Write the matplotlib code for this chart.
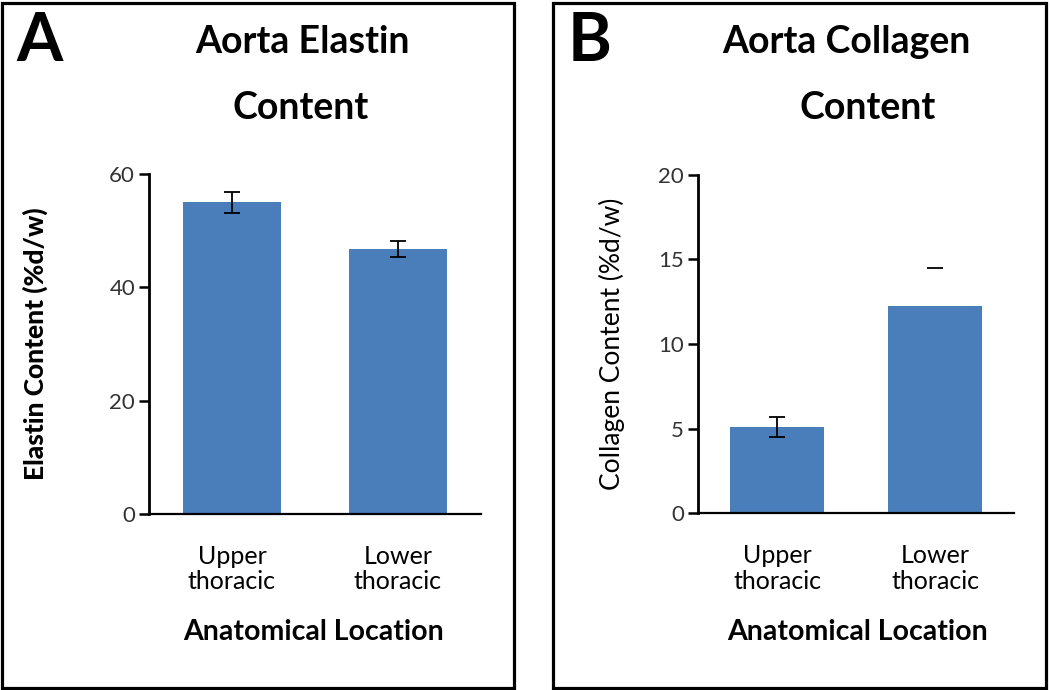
import matplotlib
matplotlib.use("Agg")
import matplotlib.pyplot as plt
from matplotlib.patches import Rectangle

plt.rcParams['font.family'] = ['Lato', 'DejaVu Sans']

categories = ["Upper\nthoracic", "Lower\nthoracic"]
elastin = [55.0, 46.7]
elastin_err = [1.8, 1.4]
collagen = [5.1, 12.24]
collagen_err = [0.6, 2.25]
elastin_ticks = [0, 20, 40, 60]
collagen_ticks = [0, 5, 10, 15, 20]

BAR = '#4A7EBB'
W, H = 1050, 690
fig = plt.figure(figsize=(10.5, 6.9), dpi=100)

def fx(px):
    return px / W

def fy(py):
    return 1 - py / H

# panel borders
for (x0, x1) in [(1.5, 514), (553, 1046)]:
    fig.patches.append(Rectangle((fx(x0), fy(688)), fx(x1 - x0), (688 - 2.5) / H,
                                 transform=fig.transFigure, fill=False,
                                 edgecolor='black', linewidth=2.3))

def style(ax, ticks, ylim):
    ax.set_ylim(*ylim)
    ax.set_xlim(-0.5, 1.5)
    ax.set_yticks(ticks)
    for s in ['top', 'right']:
        ax.spines[s].set_visible(False)
    ax.spines['left'].set_linewidth(2.0)
    ax.spines['bottom'].set_linewidth(1.6)
    ax.tick_params(axis='y', direction='out', length=7, width=1.8, labelsize=16,
                   labelcolor='#333333', pad=3)
    ax.tick_params(axis='x', length=0, labelsize=18, pad=22)
    ax.set_xticks(range(len(categories)))
    ax.set_xticklabels(categories, linespacing=1.15)

# Panel A
axA = fig.add_axes([fx(149), fy(514), fx(481 - 149), (514 - 174) / H])
axA.bar(range(2), elastin, width=0.59, color=BAR, zorder=2)
axA.errorbar(range(2), elastin, yerr=elastin_err, fmt='none', ecolor='black',
             elinewidth=1.3, capsize=6, capthick=1.3, zorder=3)
style(axA, elastin_ticks, (0, 60))
axA.set_ylabel("Elastin Content (%d/w)", fontsize=19, fontweight='black')
axA.yaxis.label.set_va('center')
axA.yaxis.set_label_coords((35 - 149) / 332, 0.5)
axA.text((314 - 149) / 332, (514 - 632) / 340, "Anatomical Location",
         transform=axA.transAxes, ha='center', va='center', fontsize=20.5,
         fontweight='bold')

# Panel B
axB = fig.add_axes([fx(698), fy(513.3), fx(1014 - 698), (513.3 - 174.7) / H])
axB.bar(range(2), collagen, width=0.59, color=BAR, zorder=2)
axB.errorbar([0], [collagen[0]], yerr=[collagen_err[0]], fmt='none', ecolor='black',
             elinewidth=1.3, capsize=6, capthick=1.3, zorder=3)
axB.errorbar([1], [collagen[1]], yerr=[collagen_err[1]], fmt='none', ecolor='black',
             elinewidth=0, capsize=6, capthick=1.3, zorder=1)
style(axB, collagen_ticks, (0, 20))
axB.set_ylabel("Collagen Content (%d/w)", fontsize=19)
axB.yaxis.label.set_va('center')
axB.yaxis.set_label_coords((612 - 698) / 316, 0.5)
axB.text((858 - 698) / 316, (513.3 - 632) / 338.6, "Anatomical Location",
         transform=axB.transAxes, ha='center', va='center', fontsize=20.5,
         fontweight='bold')

# Panel letters and titles
fig.text(fx(16), fy(42), "A", fontsize=48, fontweight='bold', va='center', ha='left')
fig.text(fx(302), fy(42), "Aorta Elastin", fontsize=27, fontweight='bold', ha='center', va='center')
fig.text(fx(301), fy(108), "Content", fontsize=27, fontweight='bold', ha='center', va='center')
fig.text(fx(568), fy(42), "B", fontsize=48, fontweight='bold', va='center', ha='left')
fig.text(fx(846), fy(42), "Aorta Collagen", fontsize=27, fontweight='bold', ha='center', va='center')
fig.text(fx(868), fy(108), "Content", fontsize=27, fontweight='bold', ha='center', va='center')

fig.savefig("out.png", dpi=100)
